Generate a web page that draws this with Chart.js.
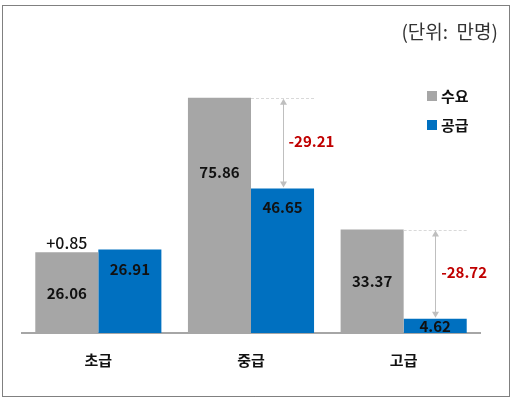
<!DOCTYPE html>
<html>
<head>
<meta charset="utf-8">
<script src="https://cdn.jsdelivr.net/npm/chart.js@4"></script>
<style>
  html, body { margin: 0; padding: 0; background: #fff; }
  canvas { display: block; }
</style>
</head>
<body>
<canvas id="gapChart" width="513" height="399"></canvas>
<script>
const categories = ['초급', '중급', '고급'];
const demand = [26.06, 75.86, 33.37];
const supply = [26.91, 46.65, 4.62];
const gapLabels = ['+0.85', '-29.21', '-28.72'];
const seriesNames = ['수요', '공급'];

const GRAY = '#A6A6A6';
const BLUE = '#0070C0';
const RED = '#C00000';
const FONT = '"Noto Sans CJK KR", "Noto Sans", sans-serif';

// offset of the value label from the bar top (px)
const labelOffsets = [[41, 74, 52], [20, 19, 8]];

function arrowLine(ctx, x, y1, y2) {
  ctx.save();
  ctx.strokeStyle = '#BFBFBF';
  ctx.fillStyle = '#BFBFBF';
  ctx.lineWidth = 1;
  ctx.beginPath();
  ctx.moveTo(x + 0.5, y1 + 4);
  ctx.lineTo(x + 0.5, y2 - 4);
  ctx.stroke();
  ctx.beginPath();
  ctx.moveTo(x + 0.5, y1);
  ctx.lineTo(x - 3, y1 + 6);
  ctx.lineTo(x + 4, y1 + 6);
  ctx.closePath();
  ctx.fill();
  ctx.beginPath();
  ctx.moveTo(x + 0.5, y2);
  ctx.lineTo(x - 3, y2 - 6);
  ctx.lineTo(x + 4, y2 - 6);
  ctx.closePath();
  ctx.fill();
  ctx.restore();
}

const extras = {
  id: 'extras',
  afterDatasetsDraw(chart) {
    const ctx = chart.ctx;
    const gray = chart.getDatasetMeta(0).data;
    const blue = chart.getDatasetMeta(1).data;

    // value labels
    ctx.save();
    ctx.textAlign = 'center';
    ctx.textBaseline = 'middle';
    ctx.fillStyle = '#111';
    ctx.font = 'bold 15px ' + FONT;
    [gray, blue].forEach((bars, d) => {
      const vals = d === 0 ? demand : supply;
      bars.forEach((bar, i) => {
        ctx.fillText(vals[i].toFixed(2), bar.x, bar.y + labelOffsets[d][i]);
      });
    });

    // gap annotations
    categories.forEach((c, i) => {
      const g = gray[i], b = blue[i];
      if (supply[i] >= demand[i]) {
        ctx.fillStyle = '#111';
        ctx.font = '500 16px ' + FONT;
        ctx.fillText(gapLabels[i], g.x, g.y - 9);
        return;
      }
      const right = b.x + b.width / 2;
      ctx.save();
      ctx.strokeStyle = '#D9D9D9';
      ctx.lineWidth = 1;
      ctx.setLineDash([3, 2]);
      ctx.beginPath();
      ctx.moveTo(g.x + g.width / 2, Math.round(g.y) + 0.5);
      ctx.lineTo(right, Math.round(g.y) + 0.5);
      ctx.stroke();
      ctx.restore();
      arrowLine(ctx, Math.round(b.x), g.y + 1, b.y - 1);
      ctx.fillStyle = RED;
      ctx.font = 'bold 15px ' + FONT;
      ctx.textAlign = 'left';
      ctx.fillText(gapLabels[i], b.x + 6, (g.y + b.y) / 2 - 2);
      ctx.textAlign = 'center';
    });

    // legend
    ctx.textAlign = 'left';
    ctx.font = 'bold 15px ' + FONT;
    [GRAY, BLUE].forEach((col, k) => {
      const y = 96 + k * 29;
      ctx.fillStyle = col;
      ctx.fillRect(427, y - 5, 10, 10);
      ctx.fillStyle = '#111';
      ctx.fillText(seriesNames[k], 441, y);
    });

    // unit note
    ctx.textAlign = 'right';
    ctx.font = '19px ' + FONT;
    ctx.fillStyle = '#333';
    ctx.fillText('(단위:  만명)', 498, 32);

    // dotted frame
    ctx.strokeStyle = '#000';
    ctx.lineWidth = 1;
    ctx.setLineDash([1, 1]);
    ctx.strokeRect(2.5, 5.5, 507, 391);
    ctx.restore();
  }
};

new Chart(document.getElementById('gapChart').getContext('2d'), {
  type: 'bar',
  data: {
    labels: categories,
    datasets: [
      { label: seriesNames[0], data: demand, backgroundColor: GRAY },
      { label: seriesNames[1], data: supply, backgroundColor: BLUE }
    ]
  },
  options: {
    responsive: false,
    animation: false,
    devicePixelRatio: 1,
    datasets: { bar: { barPercentage: 1, categoryPercentage: 0.826, borderWidth: 0 } },
    layout: { padding: { left: 22, right: 33, top: 85, bottom: 12 } },
    plugins: { legend: { display: false }, tooltip: { enabled: false } },
    scales: {
      x: {
        grid: { display: false, drawTicks: false },
        border: { color: '#A6A6A6', width: 2 },
        ticks: { color: '#111', padding: 18, font: { family: FONT, size: 15, weight: 'bold' } }
      },
      y: { display: false, min: 0, max: 80 }
    }
  },
  plugins: [extras]
});
</script>
</body>
</html>
